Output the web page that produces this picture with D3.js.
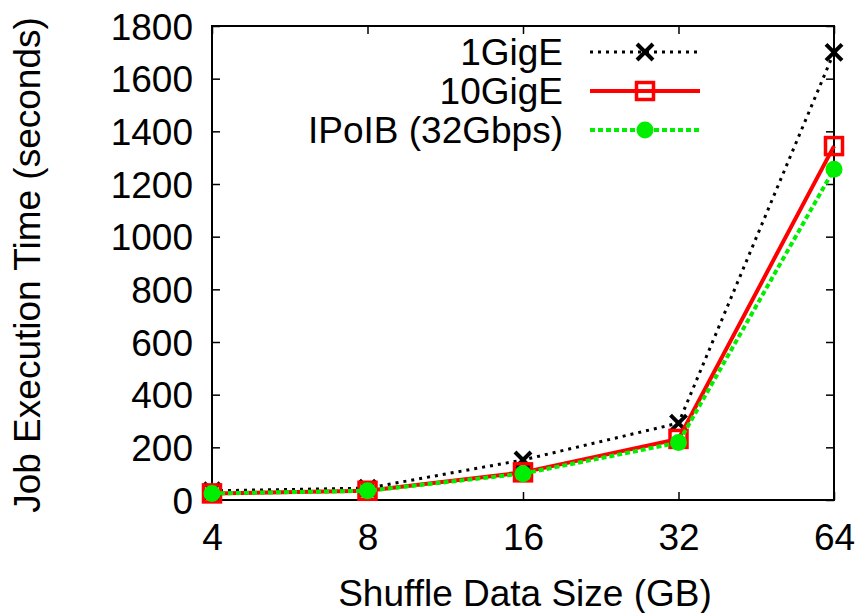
<!DOCTYPE html>
<html>
<head>
<meta charset="utf-8">
<script src="https://cdn.jsdelivr.net/npm/d3@7"></script>
<style>
  body { margin: 0; background: #fff; }
  text { font-family: "Liberation Sans", Arial, sans-serif; }
</style>
</head>
<body>
<svg id="chart"></svg>
<script>
  // data
  var sizes = ["4", "8", "16", "32", "64"];
  var gige1 = [35, 45, 152, 292, 1700];
  var gige10 = [25, 35, 105, 232, 1344];
  var ipoib = [25, 35, 100, 218, 1256];
  var yTicks = [0, 200, 400, 600, 800, 1000, 1200, 1400, 1600, 1800];

  var width = 863, height = 613;
  var fontSize = 37;
  var svg = d3.select("#chart").attr("width", width).attr("height", height);

  var pLeft = 212, pRight = 834, pTop = 26, pBottom = 500;

  var x = d3.scalePoint().domain(sizes).range([pLeft, pRight]).padding(0);
  var y = d3.scaleLinear().domain([0, 1800]).range([pBottom, pTop]);

  // frame
  svg.append("rect")
    .attr("x", pLeft).attr("y", pTop)
    .attr("width", pRight - pLeft).attr("height", pBottom - pTop)
    .attr("fill", "none").attr("stroke", "#000").attr("stroke-width", 2);

  // axes, ticks mirrored on all sides like gnuplot
  var yAxis = svg.append("g").attr("transform", "translate(" + pLeft + ",0)")
    .call(d3.axisLeft(y).tickValues(yTicks).tickFormat(d3.format("d"))
      .tickSizeInner(-8).tickSizeOuter(0).tickPadding(19));
  svg.append("g").attr("transform", "translate(" + pRight + ",0)")
    .call(d3.axisRight(y).tickValues(yTicks).tickSizeInner(-8).tickSizeOuter(0).tickFormat(""));

  var xAxis = svg.append("g").attr("transform", "translate(0," + pBottom + ")")
    .call(d3.axisBottom(x).tickSizeInner(-8).tickSizeOuter(0).tickPadding(24));
  svg.append("g").attr("transform", "translate(0," + pTop + ")")
    .call(d3.axisTop(x).tickSizeInner(-8).tickSizeOuter(0).tickFormat(""));

  svg.selectAll(".domain").remove();
  svg.selectAll(".tick line").attr("stroke", "#000").attr("stroke-width", 1.5);
  svg.selectAll(".tick text")
    .attr("font-size", fontSize).attr("fill", "#000")
    .style("font-family", "'Liberation Sans', Arial, sans-serif");
  yAxis.selectAll(".tick text").attr("dy", "0.36em");
  xAxis.selectAll(".tick text").attr("dy", "0.71em");

  // axis titles
  svg.append("text")
    .attr("transform", "translate(40," + ((pTop + pBottom) / 2 + 2) + ") rotate(-90)")
    .attr("text-anchor", "middle")
    .attr("font-size", fontSize)
    .text("Job Execution Time (seconds)");

  svg.append("text")
    .attr("x", (pLeft + pRight) / 2 + 2).attr("y", 606)
    .attr("text-anchor", "middle")
    .attr("font-size", fontSize)
    .text("Shuffle Data Size (GB)");

  var series = [
    { name: "1GigE", values: gige1, color: "#000", width: 3, dash: "3,5", marker: "x" },
    { name: "10GigE", values: gige10, color: "#ff0000", width: 4, dash: null, marker: "square" },
    { name: "IPoIB (32Gbps)", values: ipoib, color: "#00ee00", width: 4, dash: "5,3", marker: "circle" }
  ];

  var line = d3.line()
    .x(function(d, i) { return x(sizes[i]); })
    .y(function(d) { return y(d); });

  function drawMarker(g, type, color, cx, cy) {
    if (type == "x") {
      g.append("path")
        .attr("d", "M" + (cx - 8) + "," + (cy - 8) + "L" + (cx + 8) + "," + (cy + 8) +
          "M" + (cx - 8) + "," + (cy + 8) + "L" + (cx + 8) + "," + (cy - 8))
        .attr("stroke", color).attr("stroke-width", 4).attr("fill", "none");
    } else if (type == "square") {
      g.append("rect")
        .attr("x", cx - 8.5).attr("y", cy - 8.5).attr("width", 17).attr("height", 17)
        .attr("fill", "none").attr("stroke", color).attr("stroke-width", 3.5);
    } else {
      g.append("circle")
        .attr("cx", cx).attr("cy", cy).attr("r", 8.5)
        .attr("fill", color);
    }
  }

  var legendY = [52, 91, 130];

  series.forEach(function(s, k) {
    var g = svg.append("g");
    g.append("path")
      .attr("d", line(s.values))
      .attr("fill", "none")
      .attr("stroke", s.color)
      .attr("stroke-width", s.width)
      .attr("stroke-dasharray", s.dash);
    s.values.forEach(function(v, i) {
      drawMarker(g, s.marker, s.color, x(sizes[i]), y(v));
    });

    // legend entry
    var ly = legendY[k];
    g.append("text")
      .attr("x", 563).attr("y", ly)
      .attr("dy", "0.36em")
      .attr("text-anchor", "end")
      .attr("font-size", fontSize)
      .text(s.name);
    g.append("line")
      .attr("x1", 590).attr("x2", 700)
      .attr("y1", ly).attr("y2", ly)
      .attr("stroke", s.color)
      .attr("stroke-width", s.width)
      .attr("stroke-dasharray", s.dash);
    drawMarker(g, s.marker, s.color, 645, ly);
  });
</script>
</body>
</html>
